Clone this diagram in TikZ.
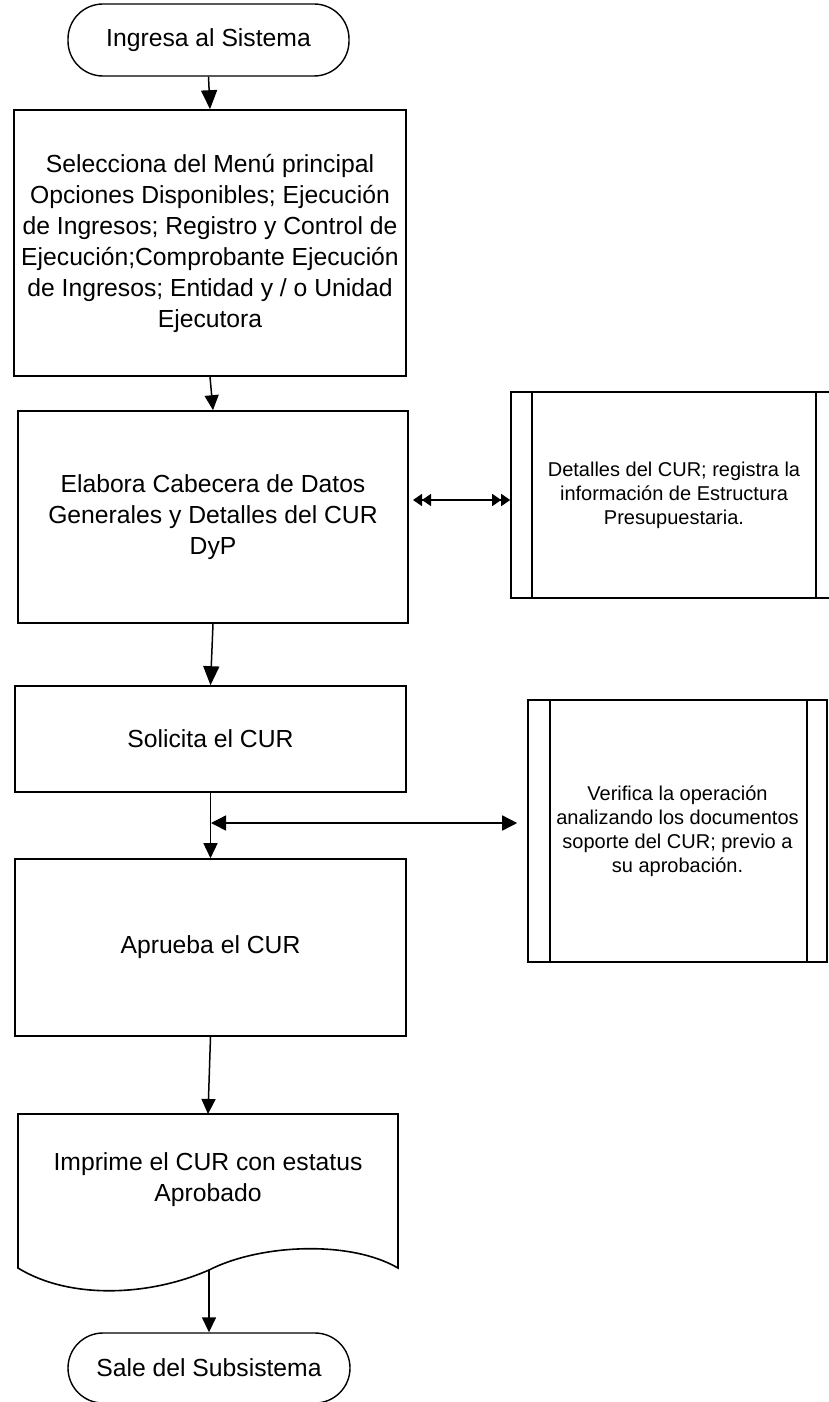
\documentclass[tikz,border=0pt]{standalone}
\usepackage{fontspec}
\setmainfont{Liberation Sans}
\usetikzlibrary{arrows.meta,calc}
\begin{document}
\begin{tikzpicture}[x=1pt,y=-1pt,
  mainfont/.style={font=\fontsize{24.7}{31}\selectfont},
  smallfont/.style={font=\fontsize{20}{24}\selectfont},
  box/.style={draw, line width=1.6pt, rectangle, align=center, inner sep=0pt, mainfont},
  term/.style={draw, line width=1.4pt, rectangle, rounded corners=35pt, inner sep=0pt, mainfont},
  pproc/.style={draw, line width=1.6pt, rectangle, align=center, inner sep=0pt, smallfont},
  arr/.style={line width=1.5pt, -{Triangle[length=15pt,width=14pt]}},
  bigarr/.style={line width=1.5pt, -{Triangle[length=19pt,width=16pt]}},
  twoway/.style={line width=1.5pt, {Triangle[length=15pt,width=15pt]}-{Triangle[length=15pt,width=15pt]}},
  ddway/.style={line width=1.5pt, {Triangle[length=9pt,width=12pt,sep=0pt]Triangle[length=9pt,width=12pt]}-{Triangle[length=9pt,width=12pt,sep=0pt]Triangle[length=9pt,width=12pt]}},
]
\useasboundingbox (0,0) rectangle (829,1402);

% main column
\node[term, minimum width=281pt, minimum height=72pt] (start) at (208.5,40) {Ingresa al Sistema};
\node[box, minimum width=392pt, minimum height=266pt] (sel) at (210,243)
  {Selecciona del Menú principal\\Opciones Disponibles; Ejecución\\de Ingresos; Registro y Control de\\Ejecución;Comprobante Ejecución\\de Ingresos; Entidad y / o Unidad\\Ejecutora};
\node[box, minimum width=390pt, minimum height=212pt] (elab) at (213,517)
  {Elabora Cabecera de Datos\\Generales y Detalles del CUR\\DyP};
\node[box, minimum width=391pt, minimum height=106pt] (sol) at (210.5,739) {Solicita el CUR};
\node[box, minimum width=391pt, minimum height=177pt] (apr) at (210.5,947.5) {Aprueba el CUR};

% document shape
\node[align=center, inner sep=0pt, mainfont] (doc) at (208,1180) {Imprime el CUR con estatus\\Aprobado};
\coordinate (docTop) at (208,1114);
\coordinate (docBot) at (209,1270);
\draw[line width=1.6pt, line join=miter] (18,1268) -- (18,1114) -- (398,1114) -- (398,1268)
  .. controls (350,1240) and (260,1244) .. (209,1270)
  .. controls (150,1296) and (70,1300) .. (18,1268) -- cycle;

\node[term, minimum width=282pt, minimum height=70pt] (end) at (209,1368) {Sale del Subsistema};

% side boxes (predefined process)
\node[pproc, minimum width=326pt, minimum height=206pt] (rb1) at (674,495)
  {Detalles del CUR; registra la\\información de Estructura\\Presupuestaria.};
\draw[line width=1.6pt] ([xshift=22pt]rb1.north west) -- ([xshift=22pt]rb1.south west);
\draw[line width=1.6pt] ([xshift=-22pt]rb1.north east) -- ([xshift=-22pt]rb1.south east);

\node[pproc, minimum width=299pt, minimum height=262pt] (ver) at (677.5,831)
  {Verifica la operación\\analizando los documentos\\soporte del CUR; previo a\\su aprobación.};
\draw[line width=1.6pt] ([xshift=23pt]ver.north west) -- ([xshift=23pt]ver.south west);
\draw[line width=1.6pt] ([xshift=-21pt]ver.north east) -- ([xshift=-21pt]ver.south east);

% connectors
\draw[bigarr] (start.south) -- (sel.north);
\draw[arr] (sel.south) -- (elab.north);
\draw[bigarr] (elab.south) -- (sol.north);
\draw[arr] (sol.south) -- (apr.north);
\draw[arr] (apr.south) -- (docTop);
\draw[arr] (docBot) -- (end.north);

\coordinate (k) at (413,500);
\draw[ddway] (k) -- (k -| rb1.west);

\coordinate (j) at (211,823);
\draw[twoway] (j) -- ([xshift=-10pt]j -| ver.west);
\end{tikzpicture}
\end{document}
